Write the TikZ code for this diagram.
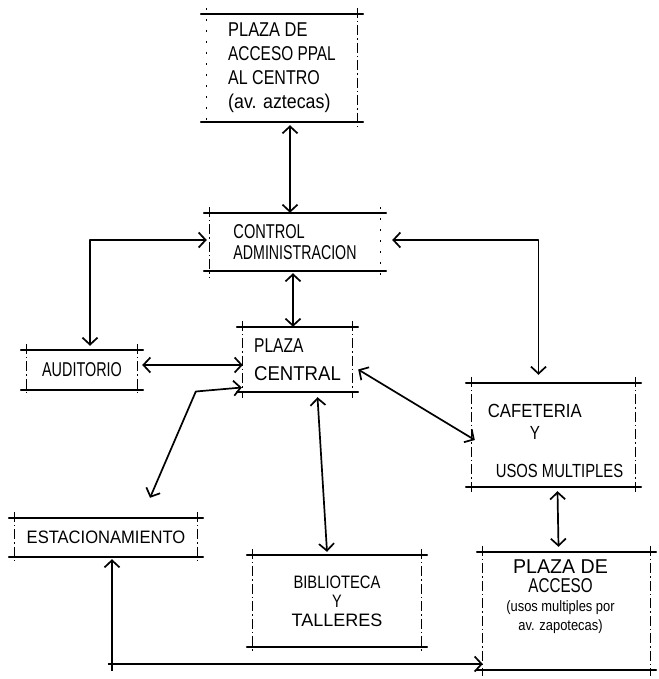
\documentclass[tikz,border=0pt]{standalone}
\usepackage{fontspec}
\setmainfont{Liberation Sans}
\usepackage{graphicx}
\usetikzlibrary{arrows.meta}

% narrow hand-lettered look: squeeze each line horizontally
\newcommand\hw[2][0.8]{\scalebox{#1}[1]{#2}}

% sketchy frame: long top/bottom strokes, light broken sides, overshooting corners
% #1 = left side style, #2 = right side style, #3 = node name
\newcommand\sketchframe[3]{%
  \draw[rim] ([xshift=-6pt]#3.north west) -- ([xshift=6pt]#3.north east);
  \draw[rim] ([xshift=-6pt]#3.south west) -- ([xshift=6pt]#3.south east);
  \draw[#1] ([yshift=6pt]#3.north west) -- ([yshift=-6pt]#3.south west);
  \draw[#2] ([yshift=6pt]#3.north east) -- ([yshift=-6pt]#3.south east);
}

\tikzset{
  area/.style={rectangle, inner sep=0pt, draw=none, align=center,
               font=\fontsize{20}{24}\selectfont},
  rim/.style={line width=1.5pt, line cap=round},
  side/.style={line width=0.8pt, dash pattern=on 10pt off 3pt on 1.5pt off 3pt},
  faint/.style={line width=0.7pt, dash pattern=on 2pt off 9pt},
  link/.style={line width=1.7pt, line cap=round, line join=round, <->},
  >={Straight Barb[length=7pt,width=15pt,line width=1.7pt]},
}

\begin{document}
\begin{tikzpicture}[x=1pt,y=-1pt]
\useasboundingbox (0,0) rectangle (658,679);

% ---- areas ----
\node[area, align=left, minimum width=150pt, minimum height=108pt] (ppal) at (282,68)
  {\hw[0.82]{PLAZA DE}\\ \hw[0.77]{ACCESO PPAL}\\ \hw[0.8]{AL CENTRO}\\ \hw[0.89]{(av. aztecas)}};
\node[area, align=left, minimum width=170pt, minimum height=58pt] (ctrl) at (295,242)
  {\hw[0.73]{CONTROL}\\[-3pt] \hw[0.71]{ADMINISTRACION}};
\node[area, align=left, minimum width=109pt, minimum height=65pt,
      font=\fontsize{20}{28}\selectfont] (pc) at (297.5,359.5)
  {\hw[0.78]{PLAZA}\\ \hw[0.93]{CENTRAL}};
\node[area, minimum width=110pt, minimum height=40pt] (aud) at (82,370)
  {\hw[0.72]{AUDITORIO}};
\node[area, minimum width=163pt, minimum height=104pt] (caf) at (553.5,435) {};
\node[area, align=left, font=\fontsize{19}{24}\selectfont] (caf-text)
  at ([yshift=-6pt]caf.center)
  {\hspace*{4pt}\hw[0.88]{CAFETERIA}\\[-2pt] \hspace*{46pt}\hw{Y}\\[14pt]
   \hspace*{12pt}\hw[0.78]{USOS MULTIPLES}};
\node[area, font=\fontsize{18}{24}\selectfont, minimum width=182pt, minimum height=39pt]
  (est) at (106,537.5) {\hw[0.92]{ESTACIONAMIENTO}};
\node[area, minimum width=168pt, minimum height=92pt,
      font=\fontsize{18}{19}\selectfont] (bib) at (337,601)
  {\hw[0.82]{BIBLIOTECA}\\ \hw{Y}\\ \hw[1]{TALLERES}};
\node[area, minimum width=167pt, minimum height=118pt] (acc) at (566.5,611) {};
\node[area, font=\fontsize{20}{19}\selectfont] (acc-text)
  at ([xshift=-6pt,yshift=14pt]acc.center)
  {\hw[0.98]{PLAZA DE}\\ \hw[0.76]{ACCESO}\\
   {\fontsize{15}{17}\selectfont\hw[0.86]{(usos multiples por}}\\
   {\fontsize{15}{17}\selectfont\hw[0.86]{av. zapotecas)}}};

% ---- frames ----
\sketchframe{faint}{side}{ppal}
\sketchframe{side}{faint}{ctrl}
\sketchframe{side}{side}{pc}
\sketchframe{side}{side}{aud}
\sketchframe{side}{side}{caf}
\sketchframe{side}{side}{est}
\sketchframe{side}{side}{bib}
\sketchframe{side}{side}{acc}

% ---- connections ----
\coordinate (p1) at ([xshift=8pt,yshift=-3pt]ppal.south);
\draw[link] (p1) -- (p1 |- ctrl.north);

\coordinate (c1) at ([xshift=-2pt,yshift=-2pt]ctrl.south);
\draw[link] (c1) -- (c1 |- pc.north);

\draw[link] ([xshift=-3pt,yshift=2pt]ctrl.west) -| ([xshift=8pt,yshift=4pt]aud.north);
\draw[link] ([xshift=12pt,yshift=2pt]ctrl.east) -| ([xshift=-15pt,yshift=8pt]caf.north);

\coordinate (a1) at ([xshift=5pt,yshift=5pt]aud.east);
\draw[link] (a1) -- (a1 -| pc.west);

\draw[link] ([xshift=-1pt,yshift=-28pt]pc.west) -- ++(-46,4)
            -- ([xshift=44pt,yshift=20pt]est.north);

\draw[link] ([xshift=6pt,yshift=-10pt]pc.east) -- ([xshift=3pt,yshift=-5pt]caf.west);

\draw[link] ([xshift=20pt,yshift=-5pt]pc.south) -- ([xshift=-10pt,yshift=3pt]bib.north);

\draw[link] ([xshift=4pt,yshift=-4pt]caf.south) -- ([xshift=-8pt,yshift=5pt]acc.north);

\coordinate (e1) at ([xshift=6pt,yshift=-2pt]est.south);
\coordinate (e2) at ([yshift=-53pt]acc.west);
\draw[link] (e1) |- (e2);
\draw[line width=1.2pt] (e1 |- e2) -- ++(0,7);
\draw[line width=1.2pt] (e1 |- e2) -- ++(-4,0);
\end{tikzpicture}
\end{document}
